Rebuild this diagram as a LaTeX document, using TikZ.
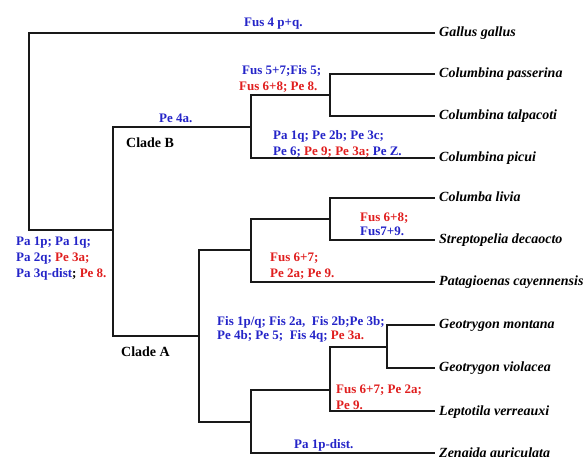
\documentclass[tikz,border=0pt]{standalone}
\usepackage{fontspec}
\setmainfont{Liberation Serif}
\definecolor{lblue}{RGB}{36,36,200}
\definecolor{lred}{RGB}{224,30,30}
\begin{document}
\begin{tikzpicture}[x=1pt,y=-1pt,
  br/.style={line width=1.8pt, draw=black!90},
  sp/.style={anchor=west, inner xsep=4pt, inner ysep=0pt, font=\fontsize{14}{16}\selectfont\bfseries\itshape, text height=10pt, text depth=2pt},
  lb/.style={anchor=base west, inner sep=0pt, font=\fontsize{13}{16}\selectfont\bfseries},
  cl/.style={anchor=base west, inner sep=0pt, font=\fontsize{14}{16}\selectfont\bfseries},
]
\useasboundingbox (0,0) rectangle (587,457);
% species
\node[sp] (gallus) at (435,33) {Gallus gallus};
\node[sp] (passerina) at (435,74) {Columbina passerina};
\node[sp] (talpacoti) at (435,116) {Columbina talpacoti};
\node[sp] (picui) at (435,158) {Columbina picui};
\node[sp] (livia) at (435,198) {Columba livia};
\node[sp] (strepto) at (435,240) {Streptopelia decaocto};
\node[sp] (patag) at (435,282) {Patagioenas cayennensis};
\node[sp] (montana) at (435,325) {Geotrygon montana};
\node[sp] (violacea) at (435,368) {Geotrygon violacea};
\node[sp] (lept) at (435,411) {Leptotila verreauxi};
\node[sp] (zen) at (435,453) {Zenaida auriculata};
% internal nodes
\coordinate (root) at (29,230);
\coordinate (ing) at (113,230);
\coordinate (cB) at (251,127);
\coordinate (cP) at (330,95);
\coordinate (cA) at (199,336);
\coordinate (cA1) at (251,250);
\coordinate (cA2) at (251,422);
\coordinate (cCS) at (330,219);
\coordinate (cGL) at (330,390);
\coordinate (cG) at (387,347);
% branches
\draw[br] (gallus.west) -| (root) -- (ing);
\draw[br] (ing) |- (cB);
\draw[br] (ing) |- (cA);
\draw[br] (cB) |- (cP);
\draw[br] (cB) |- (picui.west);
\draw[br] (cP) |- (passerina.west);
\draw[br] (cP) |- (talpacoti.west);
\draw[br] (cA) |- (cA1);
\draw[br] (cA) |- (cA2);
\draw[br] (cA1) |- (cCS);
\draw[br] (cA1) |- (patag.west);
\draw[br] (cCS) |- (livia.west);
\draw[br] (cCS) |- (strepto.west);
\draw[br] (cA2) |- (cGL);
\draw[br] (cA2) |- (zen.west);
\draw[br] (cGL) |- (cG);
\draw[br] (cGL) |- (lept.west);
\draw[br] (cG) |- (montana.west);
\draw[br] (cG) |- (violacea.west);
% labels
\node[lb, text=lblue] (l1) at (244,26.5) {Fus 4 p+q.};
\node[lb, text=lblue] (l2) at (242,74.5) {Fus 5+7;Fis 5;};
\node[lb, text=lred] (l3) at (239,90.5) {Fus 6+8; Pe 8.};
\node[lb, text=lblue] (l4) at (159,122.5) {Pe 4a.};
\node[cl] (cladeB) at (126,148) {Clade B};
\node[lb, text=lblue] (l6) at (273,139.5) {Pa 1q; Pe 2b; Pe 3c;};
\node[lb] (l7) at (273,155.5) {\textcolor{lblue}{Pe 6;} \textcolor{lred}{Pe 9; Pe 3a;} \textcolor{lblue}{Pe Z.}};
\node[lb, text=lblue] (l8) at (16,245.5) {Pa 1p; Pa 1q;};
\node[lb] (l9) at (16,261.5) {\textcolor{lblue}{Pa 2q;} \textcolor{lred}{Pe 3a;}};
\node[lb] (l10) at (16,277.5) {\textcolor{lblue}{Pa 3q-dist}; \textcolor{lred}{Pe 8.}};
\node[lb, text=lred] (l11) at (360,221.5) {Fus 6+8;};
\node[lb, text=lblue] (l12) at (360,235.5) {Fus7+9.};
\node[lb, text=lred] (l13) at (270,261.5) {Fus 6+7;};
\node[lb, text=lred] (l14) at (270,277.5) {Pe 2a; Pe 9.};
\node[cl] (cladeA) at (121,357) {Clade A};
\node[lb, text=lblue] (l16) at (217,325.5) {Fis 1p/q; Fis 2a,\ \ Fis 2b;Pe 3b;};
\node[lb] (l17) at (217,339.5) {\textcolor{lblue}{Pe 4b; Pe 5;\ \ Fis 4q;} \textcolor{lred}{Pe 3a.}};
\node[lb, text=lred] (l18) at (336,393.5) {Fus 6+7; Pe 2a;};
\node[lb, text=lred] (l19) at (336,409.5) {Pe 9.};
\node[lb, text=lblue] (l20) at (294,448.5) {Pa 1p-dist.};
\end{tikzpicture}
\end{document}
